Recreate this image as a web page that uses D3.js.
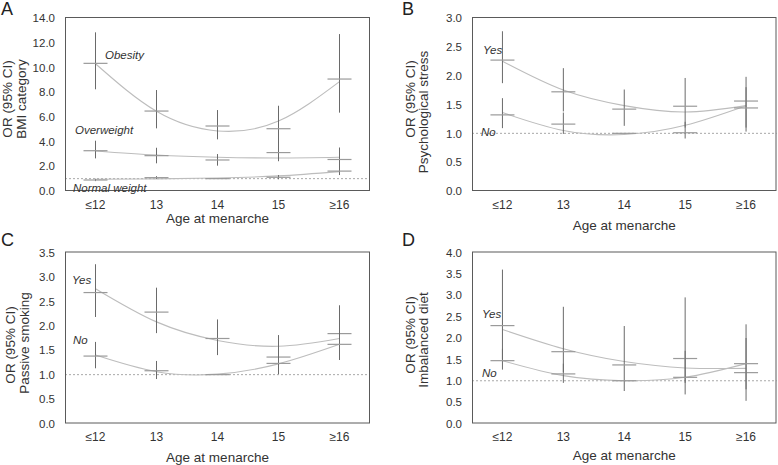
<!DOCTYPE html>
<html><head><meta charset="utf-8">
<script src="https://cdn.jsdelivr.net/npm/d3@7"></script>
<style>
html,body{margin:0;padding:0;background:#fff;}
svg{display:block;font-family:Arial,"Liberation Sans",Helvetica,sans-serif;}
</style></head>
<body>
<svg id="chart" width="778" height="465"></svg>
<script>
// ---------- data ----------
const categories = ["≤12", "13", "14", "15", "≥16"];

// Panel A: BMI category
const aTicks = [0, 2, 4, 6, 8, 10, 12, 14];
const aObesityOR  = [10.33, 6.47, 5.26, 5.04, 9.06];
const aObesityLo  = [8.23, 5.07, 4.18, 3.70, 6.34];
const aObesityHi  = [12.84, 8.17, 6.55, 6.90, 12.70];
const aObesityFit = [10.30, 6.45, 4.86, 5.66, 8.85];
const aOverOR  = [3.26, 2.86, 2.51, 3.11, 2.55];
const aOverLo  = [2.64, 2.24, 2.05, 2.41, 1.90];
const aOverHi  = [4.07, 3.50, 2.99, 3.90, 3.52];
const aOverFit = [3.24, 2.91, 2.73, 2.67, 2.73];
const aNormOR  = [0.89, 1.08, 1.00, 1.11, 1.61];
const aNormLo  = [0.80, 0.98, null, 0.95, 1.29];
const aNormHi  = [0.99, 1.20, null, 1.29, 1.95];
const aNormFit = [0.95, 0.98, 1.05, 1.22, 1.57];

// Panel B: Psychological stress
const bTicks = [0, 0.5, 1, 1.5, 2, 2.5, 3];
const bYesOR  = [2.27, 1.72, 1.42, 1.47, 1.56];
const bYesLo  = [1.87, 1.38, 1.13, 1.10, 1.03];
const bYesHi  = [2.77, 2.13, 1.76, 1.96, 1.98];
const bYesFit = [2.25, 1.75, 1.48, 1.37, 1.48];
const bNoOR  = [1.32, 1.16, 1.00, 1.01, 1.44];
const bNoLo  = [1.09, 0.99, null, 0.91, 1.10];
const bNoHi  = [1.61, 1.36, null, 1.20, 1.80];
const bNoFit = [1.36, 1.05, 0.98, 1.14, 1.48];

// Panel C: Passive smoking
const cTicks = [0, 0.5, 1, 1.5, 2, 2.5, 3, 3.5];
const cYesOR  = [2.68, 2.28, 1.74, 1.36, 1.84];
const cYesLo  = [2.18, 1.85, 1.40, 1.03, 1.30];
const cYesHi  = [3.26, 2.78, 2.13, 1.81, 2.42];
const cYesFit = [2.76, 2.08, 1.70, 1.58, 1.74];
const cNoOR  = [1.38, 1.08, 1.00, 1.23, 1.62];
const cNoLo  = [1.13, 0.91, null, 1.01, 1.35];
const cNoHi  = [1.67, 1.28, null, 1.50, 1.95];
const cNoFit = [1.40, 1.06, 1.01, 1.22, 1.62];

// Panel D: Imbalanced diet
const dTicks = [0, 0.5, 1, 1.5, 2, 2.5, 3, 3.5, 4];
const dYesOR  = [2.29, 1.68, 1.37, 1.52, 1.19];
const dYesLo  = [1.50, 1.20, 0.76, 0.95, 0.53];
const dYesHi  = [3.60, 2.73, 2.28, 2.95, 2.32];
const dYesFit = [2.20, 1.75, 1.45, 1.30, 1.29];
const dNoOR  = [1.47, 1.16, 1.00, 1.08, 1.40];
const dNoLo  = [1.26, 0.95, null, 0.68, 0.80];
const dNoHi  = [1.75, 1.40, null, 1.70, 2.00];
const dNoFit = [1.47, 1.12, 1.00, 1.08, 1.40];

// ---------- layout ----------
const panels = [
  { letter: "A", lx: 1, ly: 15, x0: 65, x1: 370, yB: 191, yT: 18, max: 14, ticks: aTicks, fmt: ".1f",
    titleY: 222.5, yt: [{t: "OR (95% CI)", x: 12, y: 99}, {t: "BMI category", x: 25.5, y: 99}],
    series: [
      {or: aObesityOR, lo: aObesityLo, hi: aObesityHi, fit: aObesityFit},
      {or: aOverOR, lo: aOverLo, hi: aOverHi, fit: aOverFit},
      {or: aNormOR, lo: aNormLo, hi: aNormHi, fit: aNormFit}],
    labels: [{t: "Obesity", x: 105, y: 59}, {t: "Overweight", x: 75, y: 134}, {t: "Normal weight", x: 73, y: 192}] },
  { letter: "B", lx: 402, ly: 15, x0: 472, x1: 776.5, yB: 191, yT: 18, max: 3, ticks: bTicks, fmt: ".1f",
    titleY: 229.5, yt: [{t: "OR (95% CI)", x: 414.5, y: 99}, {t: "Psychological stress", x: 428, y: 112}],
    series: [
      {or: bYesOR, lo: bYesLo, hi: bYesHi, fit: bYesFit},
      {or: bNoOR, lo: bNoLo, hi: bNoHi, fit: bNoFit}],
    labels: [{t: "Yes", x: 483, y: 54}, {t: "No", x: 481, y: 136}] },
  { letter: "C", lx: 1, ly: 246, x0: 65, x1: 370, yB: 423.5, yT: 252.5, max: 3.5, ticks: cTicks, fmt: ".1f",
    titleY: 462, yt: [{t: "OR (95% CI)", x: 14.5, y: 345}, {t: "Passive smoking", x: 28.5, y: 343}],
    series: [
      {or: cYesOR, lo: cYesLo, hi: cYesHi, fit: cYesFit},
      {or: cNoOR, lo: cNoLo, hi: cNoHi, fit: cNoFit}],
    labels: [{t: "Yes", x: 72, y: 284}, {t: "No", x: 73, y: 344}] },
  { letter: "D", lx: 402, ly: 246, x0: 472, x1: 776.5, yB: 423.5, yT: 252.5, max: 4, ticks: dTicks, fmt: ".1f",
    titleY: 459.5, yt: [{t: "OR (95% CI)", x: 414.5, y: 335}, {t: "Imbalanced diet", x: 428, y: 340}],
    series: [
      {or: dYesOR, lo: dYesLo, hi: dYesHi, fit: dYesFit},
      {or: dNoOR, lo: dNoLo, hi: dNoHi, fit: dNoFit}],
    labels: [{t: "Yes", x: 482, y: 318}, {t: "No", x: 482, y: 377}] }
];

const svg = d3.select("#chart");
const textColor = "#333";

panels.forEach(p => {
  const g = svg.append("g");
  const x = d3.scaleBand().domain(categories).range([p.x0, p.x1]);
  const y = d3.scaleLinear().domain([0, p.max]).range([p.yB, p.yT]);
  const cx = c => x(c) + x.bandwidth() / 2;

  // reference dotted line at OR = 1
  g.append("line")
    .attr("x1", p.x0).attr("x2", p.x1)
    .attr("y1", y(1)).attr("y2", y(1))
    .attr("stroke", "#a8a8a8").attr("stroke-width", 1).attr("stroke-dasharray", "2,2");

  // fitted curves
  const line = d3.line().x((d, i) => cx(categories[i])).y(d => y(d)).curve(d3.curveNatural);
  p.series.forEach(s => {
    g.append("path").attr("d", line(s.fit))
      .attr("fill", "none").attr("stroke", "#bdbdbd").attr("stroke-width", 1.1);
  });

  // CI verticals and OR markers
  p.series.forEach(s => {
    categories.forEach((c, i) => {
      if (s.lo[i] != null) {
        g.append("line")
          .attr("x1", cx(c)).attr("x2", cx(c))
          .attr("y1", y(s.lo[i])).attr("y2", y(s.hi[i]))
          .attr("stroke", "#6a6a6a").attr("stroke-width", 1);
      }
      g.append("line")
        .attr("x1", cx(c) - 12).attr("x2", cx(c) + 12)
        .attr("y1", y(s.or[i])).attr("y2", y(s.or[i]))
        .attr("stroke", "#9a9a9a").attr("stroke-width", 1.2);
    });
  });

  // frame
  g.append("rect")
    .attr("x", p.x0 + 0.5).attr("y", y(p.max) - 0.5)
    .attr("width", p.x1 - p.x0 - 1).attr("height", p.yB - y(p.max))
    .attr("fill", "none").attr("stroke", "#5a5a5a").attr("stroke-width", 1);

  // axes
  const ya = g.append("g").attr("transform", `translate(${p.x0},0)`)
    .call(d3.axisLeft(y).tickValues(p.ticks).tickFormat(d3.format(p.fmt)).tickSize(0).tickPadding(10));
  ya.select(".domain").remove();
  ya.selectAll("text").attr("font-size", 11.5).attr("fill", textColor).attr("font-family", "Arial, 'Liberation Sans', sans-serif");

  const xa = g.append("g").attr("transform", `translate(0,${p.yB})`)
    .call(d3.axisBottom(x).tickSize(0).tickPadding(9));
  xa.select(".domain").remove();
  xa.selectAll("text").attr("font-size", 12).attr("fill", textColor).attr("font-family", "Arial, 'Liberation Sans', sans-serif");

  // x title
  g.append("text").attr("x", (p.x0 + p.x1) / 2).attr("y", p.titleY)
    .attr("text-anchor", "middle").attr("font-size", 13.5).attr("fill", textColor)
    .text("Age at menarche");

  // y titles
  p.yt.forEach(t => {
    g.append("text")
      .attr("transform", `translate(${t.x},${t.y}) rotate(-90)`)
      .attr("text-anchor", "middle").attr("font-size", 13.5).attr("fill", textColor)
      .text(t.t);
  });

  // series labels
  p.labels.forEach(l => {
    g.append("text").attr("x", l.x).attr("y", l.y)
      .attr("font-size", 11.5).attr("font-style", "italic").attr("fill", textColor)
      .text(l.t);
  });

  // panel letter
  g.append("text").attr("x", p.lx).attr("y", p.ly)
    .attr("font-size", 18).attr("fill", "#222").text(p.letter);
});
</script>
</body></html>
